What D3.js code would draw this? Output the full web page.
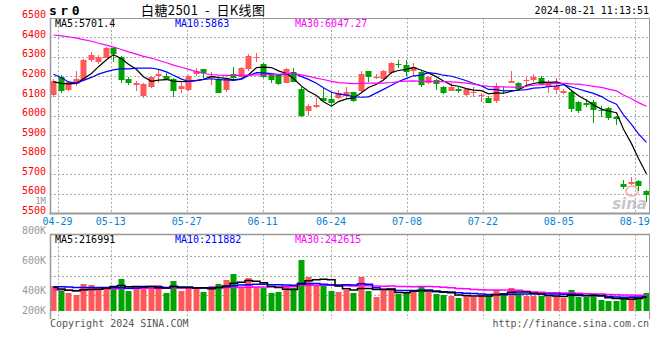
<!DOCTYPE html>
<html><head><meta charset="utf-8">
<script src="https://cdn.jsdelivr.net/npm/d3@7"></script>
<style>body{margin:0;background:#fff}svg{display:block}</style>
</head><body><svg id="c" width="660" height="360"></svg>
<script>
const dates = ["04-26","04-29","04-30","05-06","05-07","05-08","05-09","05-10","05-13","05-14",
"05-15","05-16","05-17","05-20","05-21","05-22","05-23","05-24","05-27","05-28",
"05-29","05-30","05-31","06-03","06-04","06-05","06-06","06-07","06-11","06-12",
"06-13","06-14","06-17","06-18","06-19","06-20","06-21","06-24","06-25","06-26",
"06-27","06-28","07-01","07-02","07-03","07-04","07-05","07-08","07-09","07-10",
"07-11","07-12","07-15","07-16","07-17","07-18","07-19","07-22","07-23","07-24",
"07-25","07-26","07-29","07-30","07-31","08-01","08-02","08-05","08-06","08-07",
"08-08","08-09","08-12","08-13","08-14","08-15","08-16","08-19","08-20","08-21"];
const open = [6105,6199,6131,6163,6182,6283,6276,6295,6345,6298,
6187,6158,6100,6148,6204,6202,6188,6136,6131,6211,
6237,6190,6185,6131,6212,6196,6237,6296,6264,6207,
6211,6168,6221,6134,6023,6046,6091,6085,6091,6100,
6119,6126,6228,6190,6187,6219,6266,6258,6229,6224,
6168,6182,6148,6127,6136,6105,6114,6100,6091,6076,
6131,6168,6165,6177,6182,6194,6148,6131,6117,6122,
6071,6063,6071,6028,6037,5994,5650,5652,5665,5612];
const close = [6177,6126,6170,6186,6284,6310,6300,6348,6316,6180,
6168,6166,6163,6198,6210,6184,6126,6151,6202,6228,
6219,6202,6117,6185,6190,6245,6306,6299,6196,6182,
6161,6237,6173,6000,6049,6053,6075,6063,6117,6120,
6075,6211,6196,6199,6229,6267,6262,6224,6250,6156,
6199,6160,6117,6148,6126,6136,6122,6105,6066,6151,
6126,6177,6136,6182,6199,6161,6170,6151,6126,6033,
6025,6054,6030,6022,5986,5980,5632,5662,5640,5593];
const high = [6186,6207,6175,6228,6290,6327,6310,6352,6350,6305,
6198,6175,6168,6200,6237,6220,6190,6165,6207,6242,
6240,6224,6190,6187,6247,6250,6313,6321,6268,6219,
6214,6245,6241,6148,6059,6088,6139,6119,6131,6145,
6122,6228,6230,6210,6235,6272,6284,6284,6267,6228,
6204,6185,6150,6165,6148,6138,6145,6114,6100,6168,
6145,6229,6173,6199,6212,6202,6182,6190,6134,6125,
6073,6083,6079,6049,6045,5998,5670,5684,5672,5619];
const low = [6097,6117,6128,6150,6175,6272,6262,6292,6275,6168,
6158,6125,6088,6143,6165,6180,6096,6117,6128,6204,
6190,6156,6114,6122,6182,6187,6229,6276,6190,6168,
6156,6165,6170,5994,5997,6037,6074,6054,6083,6088,
6071,6114,6173,6185,6180,6215,6241,6204,6202,6148,
6162,6131,6112,6124,6117,6100,6096,6071,6063,6066,
6110,6165,6131,6151,6173,6156,6117,6110,6110,6020,
6012,6042,5963,5994,5975,5952,5623,5645,5616,5559];
// volume in thousands
const volume = [397,322,290,254,429,413,333,381,381,508,
317,360,381,381,413,286,476,317,381,360,
302,397,429,492,587,386,524,381,370,286,
302,381,360,810,540,392,424,317,302,333,
286,544,317,222,329,329,270,306,329,381,
297,270,254,243,211,249,227,254,243,333,
290,370,265,243,238,243,217,243,211,333,
217,227,270,175,159,163,202,238,227,290];
// moving-average values before enough visible history exists
const ma5Lead = [6172,6165,6162,6165];
const ma10Lead = [6211,6193,6172,6166,6180,6195,6212,6225,6234];
const ma30Lead = [6412,6408,6403,6396,6388,6380,6370,6360,6350,6338,6326,6314,6303,6293,6283,6270,6258,6247,6236,6225,6215,6210,6207,6206,6206,6206,6207,6208,6209];
const vma5Lead = [375,350,330,320];
const vma10Lead = [385,383,380,375,373,373,374,375,373];
const vma30Lead = [335,333,330,322,335,345,350,352,355,357,358,360,360,362,362,363,364,365,366,367,368,369,370,372,374,376,378,380,382];

const priceTicks = [6500,6400,6300,6200,6100,6000,5900,5800,5700,5600,5500];
const volTicks = [1000,800,600,400,200];
const volTickLabels = ["1M","800K","600K","400K","200K"];
const dateTicks = ["04-29","05-13","05-27","06-11","06-24","07-08","07-22","08-05","08-19"];
const priceLegend = ["MA5:5701.4","MA10:5863","MA30:6047.27"];
const volLegend = ["MA5:216991","MA10:211882","MA30:242615"];
const titleCode = "sr0";
const titleName = "白糖2501 - 日K线图";
const titleTime = "2024-08-21 11:13:51";

// ---------- layout ----------
const L = 50, R = 650, PT = 17.8, PB = 213.3, VT = 234.3, VB = 311;
const RED = "#ff5858", GREEN = "#00a400", GRID = "#aaaaaa", AX = "#999999";
const MONO = "'DejaVu Sans Mono', 'Liberation Mono', monospace";
const legendX = [55, 175, 295], legendC = ["#000", "#0000ff", "#ff00ff"];

const svg = d3.select("#c");
const yP = d3.scaleLinear([5500, 6500], [PB, PT]);
const xB = d3.scaleBand(dates, [L, R]);
const xP = d3.scalePoint(dates, [L, R]);
const yV = d3.scaleLinear([0, 1000], [VB, VB - 63]);
const yVL = d3.scaleLinear([0, 1000], [351, 201]);

const cx = d => Math.round(xB(d)) + 3;
const ma = (arr, n, lead) => arr.map((_, i) => i < n - 1 ? lead[i] : d3.mean(arr.slice(i - n + 1, i + 1)));

// clip
svg.append("clipPath").attr("id", "cp").append("rect").attr("x", L).attr("y", PT).attr("width", R - L).attr("height", PB - PT);

// horizontal price grid
svg.append("g").selectAll("line").data(priceTicks.filter(v => v !== 6500 && v !== 5500)).join("line")
  .attr("x1", L).attr("x2", R).attr("y1", d => Math.round(yP(d)) + 0.5).attr("y2", d => Math.round(yP(d)) + 0.5)
  .attr("stroke", GRID).attr("stroke-dasharray", "2,2");
// volume grid
svg.append("g").selectAll("line").data([255.7, 275.5, 295.3]).join("line")
  .attr("x1", L).attr("x2", R).attr("y1", d => Math.round(d) + 0.5).attr("y2", d => Math.round(d) + 0.5)
  .attr("stroke", GRID).attr("stroke-dasharray", "2,2");
// vertical grid
const gridDates = dateTicks.filter(d => xP(d) < R - 10);
const vg = svg.append("g");
gridDates.forEach(d => {
  const x = Math.round(xP(d)) + 0.5;
  vg.append("line").attr("x1", x).attr("x2", x).attr("y1", PT).attr("y2", PB).attr("stroke", GRID).attr("stroke-dasharray", "2,2");
  vg.append("line").attr("x1", x).attr("x2", x).attr("y1", VT).attr("y2", 319).attr("stroke", GRID).attr("stroke-dasharray", "2,2");
});

// watermark
const wm = svg.append("g").attr("opacity", 0.55);
wm.append("ellipse").attr("cx", 632).attr("cy", 191).attr("rx", 6).attr("ry", 5).attr("fill", "none").attr("stroke", "#f08080").attr("stroke-width", 2);
wm.append("text").attr("x", 647).attr("y", 209).attr("text-anchor", "end").attr("font-family", "'DejaVu Sans', sans-serif")
  .attr("font-style", "italic").attr("font-weight", "bold").attr("font-size", 15).attr("fill", "#999").text("sina");

// candles
const cg = svg.append("g");
dates.forEach((d, i) => {
  const up = close[i] >= open[i];
  const col = up ? RED : GREEN;
  const x0 = Math.round(xB(d));
  cg.append("line").attr("x1", x0 + 3.5).attr("x2", x0 + 3.5)
    .attr("y1", Math.round(yP(high[i]))).attr("y2", Math.round(yP(low[i])))
    .attr("stroke", col).attr("stroke-width", 1);
  const yt = Math.round(yP(Math.max(open[i], close[i])));
  const yb = Math.round(yP(Math.min(open[i], close[i])));
  cg.append("rect").attr("x", x0 + 0.5).attr("y", yt).attr("width", 6).attr("height", Math.max(1, yb - yt)).attr("fill", col);
});

// price MA lines
const lineP = d3.line().x((v, i) => cx(dates[i]) + 0.5).y(v => yP(v));
[[ma(close, 5, ma5Lead), "#000"], [ma(close, 10, ma10Lead), "#0000ff"], [ma(close, 30, ma30Lead), "#ff00ff"]]
  .forEach(([vals, c]) => svg.append("path").attr("clip-path", "url(#cp)").attr("d", lineP(vals))
    .attr("fill", "none").attr("stroke", c).attr("stroke-width", 1.2));

// volume bars
svg.append("g").selectAll("rect").data(dates).join("rect")
  .attr("x", d => Math.round(xB(d)) + 0.5).attr("width", 6)
  .attr("y", (d, i) => Math.round(yV(volume[i]))).attr("height", (d, i) => VB - Math.round(yV(volume[i])))
  .attr("fill", (d, i) => close[i] >= open[i] ? RED : GREEN);

// volume MA lines
const lineV = d3.line().curve(d3.curveStep).x((v, i) => cx(dates[i]) + 0.5).y(v => yV(v));
[[ma(volume, 30, vma30Lead), "#ff00ff"], [ma(volume, 10, vma10Lead), "#0000ff"], [ma(volume, 5, vma5Lead), "#000"]]
  .forEach(([vals, c]) => svg.append("path").attr("d", lineV(vals)).attr("fill", "none").attr("stroke", c).attr("stroke-width", 1.5));

// panel borders
const bd = svg.append("g").attr("stroke", AX).attr("fill", "none");
bd.append("line").attr("x1", L).attr("x2", R).attr("y1", Math.round(PT) + 0.5).attr("y2", Math.round(PT) + 0.5);
bd.append("line").attr("x1", L - 0.5).attr("x2", R).attr("y1", Math.round(PB) + 0.5).attr("y2", Math.round(PB) + 0.5).attr("stroke-width", 2);
bd.append("line").attr("x1", L + 0.5).attr("x2", L + 0.5).attr("y1", PT).attr("y2", PB + 1).attr("stroke-width", 1.5);
bd.append("line").attr("x1", R - 0.5).attr("x2", R - 0.5).attr("y1", PT).attr("y2", PB + 1);
bd.append("line").attr("x1", L).attr("x2", R).attr("y1", Math.round(VT) + 0.5).attr("y2", Math.round(VT) + 0.5).attr("stroke-width", 1.5);
bd.append("line").attr("x1", L + 0.5).attr("x2", L + 0.5).attr("y1", VT).attr("y2", 319).attr("stroke-width", 1.5);
bd.append("line").attr("x1", R - 0.5).attr("x2", R - 0.5).attr("y1", VT).attr("y2", 319);

// price axis labels
svg.append("g").selectAll("text").data(priceTicks).join("text")
  .attr("x", 46).attr("y", d => yP(d) - 2.5).attr("text-anchor", "end").attr("dominant-baseline", "middle")
  .attr("font-family", MONO).attr("font-size", 10).attr("fill", "#ff0000").text(d => d);
// volume axis labels
svg.append("g").selectAll("text").data(volTicks).join("text")
  .attr("x", 46).attr("y", d => Math.min(yVL(d), VB)).attr("text-anchor", "end").attr("dominant-baseline", "middle")
  .attr("font-family", MONO).attr("font-size", d => d === 1000 ? 9 : 10).attr("fill", "#999").text((d, i) => volTickLabels[i]);
// date labels
svg.append("g").selectAll("text").data(dateTicks).join("text")
  .attr("x", d => xP(d)).attr("y", 221.5).attr("text-anchor", "middle").attr("dominant-baseline", "middle")
  .attr("font-family", MONO).attr("font-size", 10).attr("fill", "#0a7fd0").text(d => d);

// legends
priceLegend.forEach((t, i) => svg.append("text").attr("x", legendX[i]).attr("y", 24).attr("dominant-baseline", "middle")
  .attr("font-family", MONO).attr("font-size", 10).attr("fill", legendC[i]).text(t));
volLegend.forEach((t, i) => svg.append("text").attr("x", legendX[i]).attr("y", 239.5).attr("dominant-baseline", "middle")
  .attr("font-family", MONO).attr("font-size", 10).attr("fill", legendC[i]).text(t));

// title
svg.append("text").attr("x", 49).attr("y", 11).attr("dominant-baseline", "middle").attr("font-family", MONO)
  .attr("font-weight", "bold").attr("font-size", 13).attr("letter-spacing", 3.5).attr("fill", "#000").text(titleCode);
svg.append("text").attr("x", 141).attr("y", 11).attr("dominant-baseline", "middle").attr("font-family", "'Noto Sans CJK SC', sans-serif")
  .attr("font-size", 13).attr("letter-spacing", 0.4).attr("fill", "#000").attr("xml:space", "preserve").style("white-space", "pre").text(titleName.replace(" - ", "  -  "));
svg.append("text").attr("x", 649).attr("y", 11).attr("text-anchor", "end").attr("dominant-baseline", "middle").attr("font-family", MONO)
  .attr("font-size", 10).attr("fill", "#000").text(titleTime);

// footer
svg.append("text").attr("x", 50).attr("y", 324).attr("dominant-baseline", "middle").attr("font-family", MONO)
  .attr("font-size", 10).attr("fill", "#555").text("Copyright 2024 SINA.COM");
svg.append("text").attr("x", 649).attr("y", 324).attr("text-anchor", "end").attr("dominant-baseline", "middle").attr("font-family", MONO)
  .attr("font-size", 10).attr("fill", "#555").text("http://finance.sina.com.cn");
</script></body></html>
